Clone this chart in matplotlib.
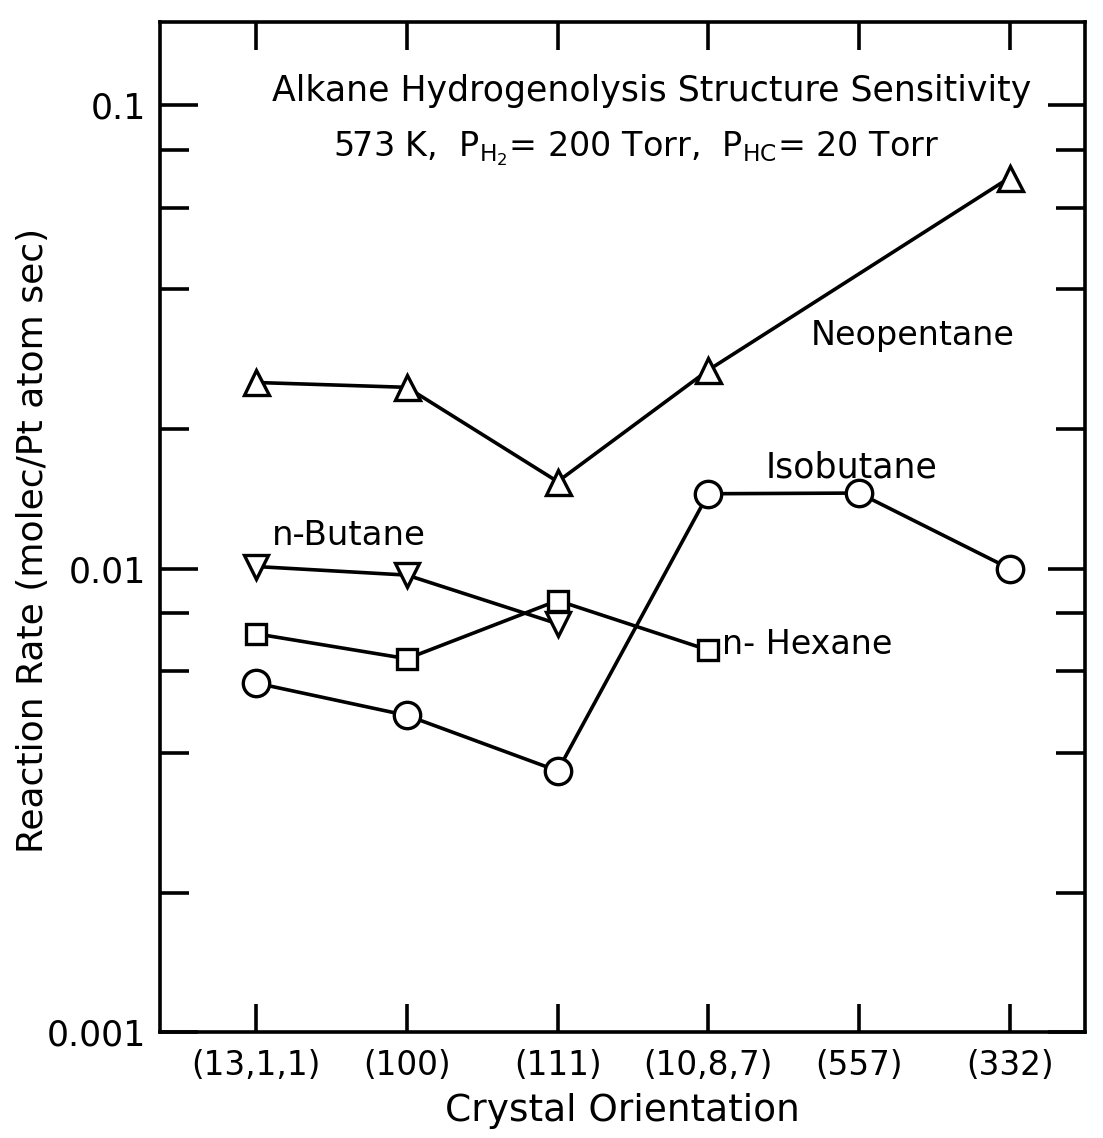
import matplotlib
matplotlib.use("Agg")
import matplotlib.pyplot as plt
from matplotlib.ticker import FixedLocator, NullFormatter, FixedFormatter

plt.rcParams['font.family'] = ['DejaVu Sans']
plt.rcParams['mathtext.default'] = 'regular'

categories = ["(13,1,1)", "(100)", "(111)", "(10,8,7)", "(557)", "(332)"]

neopentane_x = [0, 1, 2, 3, 5]
neopentane = [0.0252, 0.0246, 0.0154, 0.0268, 0.0697]

isobutane_x = [0, 1, 2, 3, 4, 5]
isobutane = [0.00566, 0.00482, 0.00366, 0.0145, 0.01455, 0.0100]

nbutane_x = [0, 1, 2]
nbutane = [0.0101, 0.00968, 0.0076]

nhexane_x = [0, 1, 2, 3]
nhexane = [0.00723, 0.00639, 0.00853, 0.00667]

yticks = [0.001, 0.01, 0.1]
yticklabels = ["0.001", "0.01", "0.1"]

fig = plt.figure(figsize=(11.03, 11.38), dpi=100)
ax = fig.add_axes([0.145, 0.0931, 0.8386, 0.8875])
ax.set_yscale('log')
ax.set_ylim(0.001, 0.151)
ax.set_xlim(-0.64, 5.50)

lw = 2.6
common = dict(color='black', lw=lw, markerfacecolor='white', markeredgecolor='black', markeredgewidth=2.4)
ax.plot(neopentane_x, neopentane, marker='^', ms=18, **common)
ax.plot(isobutane_x, isobutane, marker='o', ms=19, **common)
ax.plot(nbutane_x, nbutane, marker='v', ms=17, **common)
ax.plot(nhexane_x, nhexane, marker='s', ms=14, **common)

for s in ax.spines.values():
    s.set_linewidth(2.6)

ax.set_xticks(range(len(categories)))
ax.set_xticklabels(categories, fontsize=23.5)
ax.yaxis.set_major_locator(FixedLocator(yticks))
ax.yaxis.set_major_formatter(FixedFormatter(yticklabels))
minor = [m * 10.0**e for e in (-3, -2, -1) for m in (2, 4, 6, 8) if m * 10.0**e < 0.151]
ax.yaxis.set_minor_locator(FixedLocator(minor))
ax.yaxis.set_minor_formatter(NullFormatter())
ax.tick_params(axis='y', which='major', direction='in', length=27, width=2.6, labelsize=25, right=True, pad=10)
ax.tick_params(axis='y', which='minor', direction='in', length=21, width=2.6, right=True)
ax.tick_params(axis='x', which='major', direction='in', length=20, width=2.6, top=True, pad=12)
ax.tick_params(axis='x', which='minor', bottom=False, top=False)

ax.set_xlabel("Crystal Orientation", fontsize=27, labelpad=8)
ax.set_ylabel("Reaction Rate (molec/Pt atom sec)", fontsize=26)
ax.yaxis.set_label_coords(-0.119, 0.487)

ax.text(0.532, 0.932, "Alkane Hydrogenolysis Structure Sensitivity", transform=ax.transAxes,
        ha='center', va='center', fontsize=25)
ax.text(0.515, 0.875, "573 K,  $P_{H_2}$= 200 Torr,  $P_{HC}$= 20 Torr", transform=ax.transAxes,
        ha='center', va='center', fontsize=24)

ax.text(3.68, 0.0319, "Neopentane", fontsize=24, ha='left', va='center')
ax.text(3.38, 0.0165, "Isobutane", fontsize=25, ha='left', va='center')
ax.text(0.106, 0.0118, "n-Butane", fontsize=24.5, ha='left', va='center')
ax.text(3.09, 0.00684, "n- Hexane", fontsize=24, ha='left', va='center')

fig.savefig("out.png", dpi=100)
